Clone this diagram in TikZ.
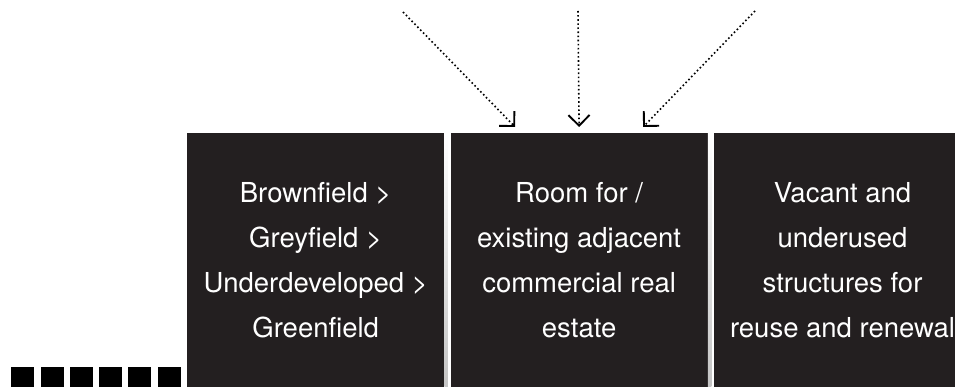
\documentclass[tikz,border=0pt]{standalone}
\usepackage{fontspec}
\setsansfont{TeX Gyre Heros}
\usetikzlibrary{arrows.meta, positioning}
\definecolor{cdark}{HTML}{231F20}
\definecolor{cgap}{HTML}{C4C4C4}
\tikzset{
  every picture/.style={font=\sffamily, x=1pt, y=-1pt},
  panel/.style={fill=cdark, text=white, align=center, anchor=north west, minimum width=257pt, minimum height=254pt, inner sep=0pt, font=\sffamily\fontsize{27.5}{45}\selectfont},
  tick/.style={fill=black, anchor=north west, minimum width=23pt, minimum height=23pt, inner sep=0pt},
  feed/.style={-{Straight Barb[angle=90:15pt, line width=1.9pt]}, line width=1.6pt, dash pattern=on 1.6pt off 2.5pt},
}

\begin{document}
\begin{tikzpicture}
  \useasboundingbox (0,0) rectangle (955,387);
  \node[panel] (p1) at (187,133) {Brownfield >\\Greyfield >\\Underdeveloped >\\Greenfield};
  \node[panel, right=6pt of p1.north east, anchor=north west] (p2) {Room for /\\existing adjacent\\commercial real\\estate};
  \node[panel, right=6pt of p2.north east, anchor=north west] (p3) {Vacant and\\underused\\structures for\\reuse and renewal};
  % light seams between the panels
  \foreach \a in {1,2} {
    \shade[top color=white, bottom color=cgap] (p\a.north east) rectangle ([xshift=3.5pt]p\a.south east);
  }
  % row of small squares
  \foreach \i in {0,...,5} {
    \node[tick] (s\i) at ({11+29.3*\i},367) {};
  }
  % dotted feeds into the middle panel
  \coordinate (f1) at (403,12);
  \coordinate (f2) at (578,11);
  \coordinate (f3) at (755,11);
  \draw[feed] (f1) -- ([xshift=-64pt, yshift=6pt]p2.north);
  \draw[feed] (f2) -- ([yshift=6pt]p2.north);
  \draw[feed] (f3) -- ([xshift=64pt, yshift=6pt]p2.north);
\end{tikzpicture}
\end{document}
